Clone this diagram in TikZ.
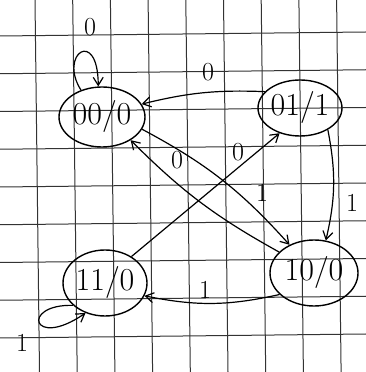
\documentclass[tikz,border=0pt]{standalone}
\usepackage{fontspec}
\usetikzlibrary{shapes.geometric,arrows.meta}
\begin{document}
\begin{tikzpicture}[x=1pt,y=1pt,
  state/.style={ellipse, draw, line width=1.4pt, inner sep=0pt,
    font=\fontsize{32}{34}\selectfont},
  edge/.style={line width=1.2pt, -{Straight Barb[length=8pt,width=10pt]}},
  lbl/.style={font=\fontsize{26}{28}\selectfont},
  gridline/.style={black!80, line width=1pt}]
\useasboundingbox (0,0) rectangle (366,372);
\fill[white] (0,0) rectangle (366,372);
% squared paper, slightly skewed
\foreach \k in {0,...,8} {
  \draw[gridline] ({35+37.7*\k},372) -- ({39.5+37.7*\k},0);
  \draw[gridline] (0,{336-37.75*\k}) -- (366,{340-37.75*\k});
}
% states
\node[state, minimum width=86pt, minimum height=60pt] (n00) at (102,255) {00/0};
\node[state, minimum width=84pt, minimum height=56pt] (n01) at (300,264) {01/1};
\node[state, minimum width=84pt, minimum height=66pt] (n11) at (105,89) {11/0};
\node[state, minimum width=88pt, minimum height=66pt] (n10) at (314,99) {10/0};
% transitions
\draw[edge] (n00.128) .. controls (58,318) and (98,345) .. (n00.97);
\draw[edge] (n01.155) to[bend right=8] (n00.18);
\draw[edge] (n00.-17) to[bend left=10] (n10.131);
\draw[edge] (n10.149) to[bend left=8] (n00.-39);
\draw[edge] (n11.45) -- (n01.231);
\draw[edge] (n01.-38) to[bend left=12] (n10.70);
\draw[edge] (n10.212) to[bend left=12] (n11.-18);
\draw[edge] (n11.215) .. controls (20,68) and (32,22) .. (n11.237);
% input labels
\node[lbl] (la) at (90,345) {0};
\node[lbl] (lb) at (208,300) {0};
\node[lbl] (lc) at (262,179) {1};
\node[lbl] (ld) at (177,212) {0};
\node[lbl] (le) at (238,220) {0};
\node[lbl] (lf) at (352,169) {1};
\node[lbl] (lg) at (205,82) {1};
\node[lbl] (lh) at (22,29) {1};
\end{tikzpicture}
\end{document}
